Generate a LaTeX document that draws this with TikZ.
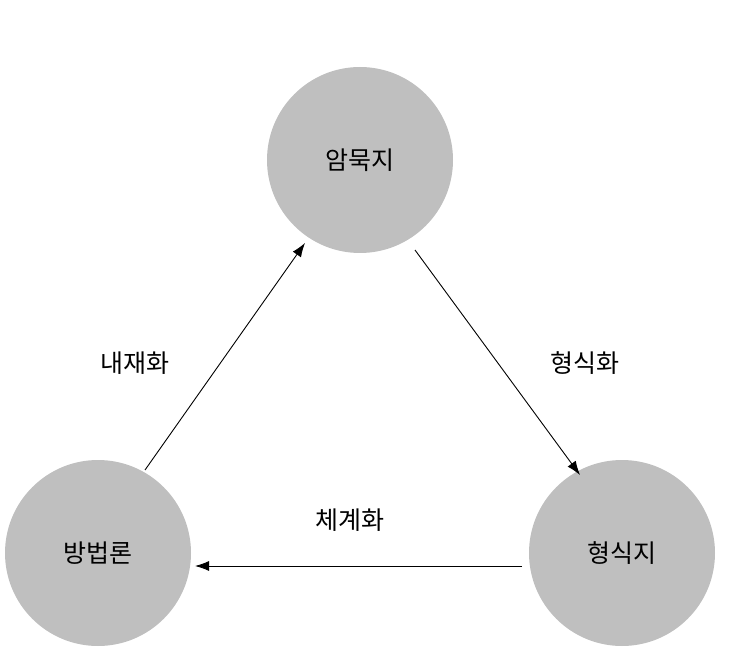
\documentclass[tikz,border=0pt]{standalone}
\usetikzlibrary{arrows.meta}
\usepackage{fontspec}
\setmainfont{Noto Sans CJK KR}
\begin{document}
\begin{tikzpicture}[x=1pt,y=-1pt,
  circ/.style={circle,fill=black!25,minimum size=186pt,inner sep=0pt,font=\fontsize{25}{27}\selectfont},
  lab/.style={font=\fontsize{25}{27}\selectfont},
  arr/.style={-{Latex[length=14pt,width=10pt]},line width=0.9pt}]
\useasboundingbox (0,0) rectangle (729,671);
\node[circ] (a) at (360,160) {암묵지};
\node[circ] (b) at (98,553) {방법론};
\node[circ] (c) at (622,553) {형식지};
\coordinate (a1) at (145,470); \coordinate (a2) at (305,243);
\coordinate (b1) at (415,250); \coordinate (b2) at (580,475);
\coordinate (c1) at (522,566); \coordinate (c2) at (195,566);
\draw[arr] (a1) -- (a2);
\draw[arr] (b1) -- (b2);
\draw[arr] (c1) -- (c2);
\node[lab] (l1) at (135,363) {내재화};
\node[lab] (l2) at (585,363) {형식화};
\node[lab] (l3) at (350,520) {체계화};
\end{tikzpicture}
\end{document}
